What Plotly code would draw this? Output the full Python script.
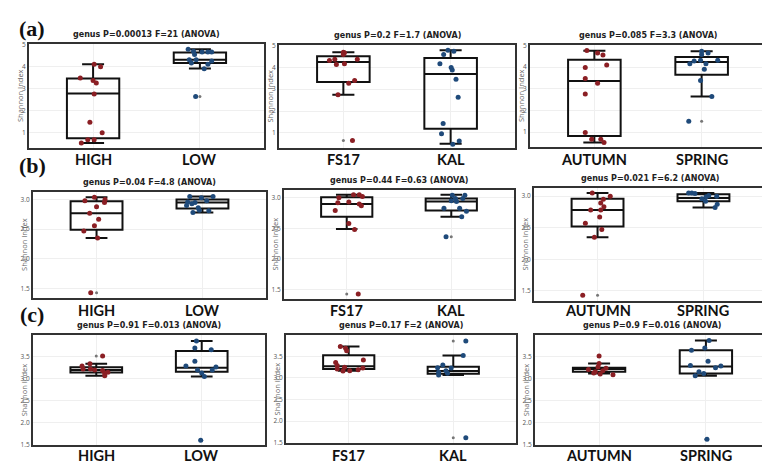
import plotly.graph_objects as go

# ---------------- data ----------------
titles = [
    "genus P=0.00013 F=21 (ANOVA)", "genus P=0.2 F=1.7 (ANOVA)", "genus P=0.085 F=3.3 (ANOVA)",
    "genus P=0.04 F=4.8 (ANOVA)", "genus P=0.44 F=0.63 (ANOVA)", "genus P=0.021 F=6.2 (ANOVA)",
    "genus P=0.91 F=0.013 (ANOVA)", "genus P=0.17 F=2 (ANOVA)", "genus P=0.9 F=0.016 (ANOVA)",
]
categories = [["HIGH", "LOW"], ["FS17", "KAL"], ["AUTUMN", "SPRING"]]
row_letters = ["(a)", "(b)", "(c)"]
y_ranges = [[0.33, 5.0], [1.34, 3.13], [1.48, 3.99]]
y_ticks = [[1, 2, 3, 4, 5], [1.5, 2.0, 2.5, 3.0], [1.5, 2.0, 2.5, 3.0, 3.5]]
y_tickfmt = ["d", ".1f", ".1f"]
y_title = "Shannon Index"

# row a
a_high_vals = [4.10, 3.99, 3.48, 3.37, 3.25, 2.76, 1.48, 1.00, 0.69, 0.69, 0.54]
a_high_jit = [0.01, 0.07, -0.12, 0.0, 0.03, 0.01, -0.03, 0.085, -0.05, 0.01, -0.11]
a_high_box = [0.54, 0.76, 2.78, 3.46, 4.10]
a_high_out = []
a_low_vals = [4.78, 4.69, 4.66, 4.66, 4.66, 4.55, 4.31, 4.31, 4.25, 4.16, 4.10, 3.90, 2.64]
a_low_jit = [-0.11, -0.06, 0.02, 0.075, 0.11, -0.05, -0.1, -0.035, 0.11, -0.08, 0.075, 0.04, -0.04]
a_low_box = [3.91, 4.16, 4.31, 4.64, 4.78]
a_low_out = [2.64]
a_fs17_vals = [4.69, 4.66, 4.58, 4.37, 4.31, 4.37, 4.13, 4.16, 3.40, 3.27, 2.75, 0.66]
a_fs17_jit = [0.0, 0.01, 0.0, -0.08, -0.13, 0.13, -0.065, 0.01, 0.105, 0.05, -0.05, 0.085]
a_fs17_box = [2.75, 3.33, 4.24, 4.51, 4.69]
a_fs17_out = [0.66]
a_kal_vals = [4.78, 4.73, 4.58, 4.16, 3.99, 3.88, 3.46, 2.63, 1.43, 0.96, 0.63, 0.48]
a_kal_jit = [-0.025, 0.03, -0.065, -0.1, 0.005, 0.015, 0.05, 0.07, -0.07, -0.085, 0.08, 0.02]
a_kal_box = [0.51, 1.19, 3.69, 4.42, 4.78]
a_kal_out = []
a_autumn_vals = [4.77, 4.65, 4.56, 4.10, 3.98, 3.48, 3.26, 2.76, 0.98, 0.67, 0.67, 0.52]
a_autumn_jit = [-0.07, 0.03, 0.08, 0.115, -0.085, -0.085, 0.03, -0.085, -0.085, -0.025, 0.06, 0.09]
a_autumn_box = [0.52, 0.82, 3.36, 4.34, 4.76]
a_autumn_out = []
a_spring_vals = [4.73, 4.65, 4.58, 4.28, 4.32, 4.32, 4.16, 4.16, 3.90, 3.38, 2.64, 1.50]
a_spring_jit = [0.0, 0.06, 0.0, -0.07, -0.01, 0.15, -0.11, 0.04, 0.025, -0.01, 0.095, -0.12]
a_spring_box = [2.64, 3.65, 4.23, 4.47, 4.73]
a_spring_out = [1.50]

# row b
b_high_vals = [3.04, 3.00, 2.98, 2.95, 2.88, 2.77, 2.67, 2.56, 2.47, 2.35, 1.43]
b_high_jit = [-0.02, 0.08, -0.11, 0.075, 0.0, -0.065, 0.02, -0.02, -0.12, 0.01, -0.055]
b_high_box = [2.35, 2.49, 2.77, 2.97, 3.04]
b_high_out = [1.43]
b_low_vals = [3.05, 3.05, 3.03, 2.98, 2.96, 2.95, 2.93, 2.90, 2.86, 2.81, 2.82, 2.78]
b_low_jit = [-0.12, 0.1, -0.01, 0.04, -0.14, -0.07, -0.1, -0.15, -0.04, 0.06, -0.03, -0.09]
b_low_box = [2.78, 2.85, 2.95, 3.00, 3.05]
b_low_out = []
b_fs17_vals = [3.05, 3.05, 3.02, 3.00, 2.93, 2.92, 2.90, 2.87, 2.79, 2.58, 2.48, 1.42]
b_fs17_jit = [0.065, 0.12, 0.15, -0.075, 0.02, -0.085, 0.12, 0.14, -0.11, 0.02, 0.075, 0.11]
b_fs17_box = [2.49, 2.69, 2.90, 3.01, 3.05]
b_fs17_out = [1.42]
b_kal_vals = [3.04, 3.04, 2.99, 2.99, 2.95, 2.94, 2.83, 2.83, 2.78, 2.69, 2.36]
b_kal_jit = [0.01, 0.13, 0.04, 0.11, 0.0, 0.05, -0.07, 0.08, 0.145, 0.1, -0.05]
b_kal_box = [2.69, 2.79, 2.94, 2.99, 3.05]
b_kal_out = [2.36]
b_autumn_vals = [3.05, 3.00, 2.95, 2.89, 2.83, 2.78, 2.78, 2.67, 2.57, 2.47, 2.35, 1.43]
b_autumn_jit = [-0.05, 0.12, 0.055, 0.03, 0.06, -0.065, 0.03, 0.02, -0.115, 0.04, -0.03, -0.14]
b_autumn_box = [2.35, 2.52, 2.78, 2.96, 3.05]
b_autumn_out = [1.43]
b_spring_vals = [3.05, 3.04, 3.01, 3.00, 2.99, 2.96, 2.92, 2.87, 2.82, 3.05]
b_spring_jit = [-0.11, -0.08, 0.05, 0.125, 0.025, -0.015, 0.02, 0.13, 0.11, -0.14]
b_spring_box = [2.82, 2.92, 2.97, 3.03, 3.05]
b_spring_out = []

# row c
c_high_vals = [3.52, 3.29, 3.34, 3.22, 3.19, 3.13, 3.15, 3.07, 3.22, 3.20]
c_high_jit = [0.06, -0.135, -0.06, -0.055, 0.06, 0.08, 0.11, 0.08, -0.125, -0.015]
c_high_box = [3.07, 3.14, 3.20, 3.26, 3.34]
c_high_out = [3.52]
c_low_vals = [3.86, 3.70, 3.66, 3.40, 3.29, 3.27, 3.20, 3.20, 3.13, 3.05, 1.60]
c_low_jit = [-0.05, -0.065, 0.09, -0.065, -0.15, 0.135, -0.04, 0.1, 0.0, 0.025, -0.01]
c_low_box = [3.05, 3.16, 3.25, 3.63, 3.86]
c_low_out = [1.60]
c_fs17_vals = [3.73, 3.69, 3.63, 3.42, 3.36, 3.29, 3.25, 3.23, 3.21, 3.19, 3.16, 3.17]
c_fs17_jit = [-0.08, -0.03, -0.02, 0.14, -0.125, -0.11, -0.04, 0.135, -0.11, 0.09, -0.055, 0.01]
c_fs17_box = [3.17, 3.21, 3.27, 3.53, 3.73]
c_fs17_out = []
c_kal_vals = [3.86, 3.52, 3.30, 3.24, 3.23, 3.17, 3.13, 3.11, 3.07, 1.61]
c_kal_jit = [0.12, 0.095, -0.1, -0.15, -0.02, -0.07, -0.14, -0.055, -0.14, 0.12]
c_kal_box = [3.07, 3.10, 3.16, 3.26, 3.52]
c_kal_out = [3.86, 1.61]
c_autumn_vals = [3.52, 3.35, 3.27, 3.24, 3.21, 3.16, 3.13, 3.11, 3.09, 3.18]
c_autumn_jit = [0.0, 0.0, -0.01, 0.065, -0.1, -0.035, -0.05, 0.01, 0.13, 0.035]
c_autumn_box = [3.12, 3.16, 3.22, 3.25, 3.35]
c_autumn_out = [3.52]
c_spring_vals = [3.87, 3.65, 3.70, 3.40, 3.30, 3.29, 3.25, 3.16, 3.12, 3.07, 1.62]
c_spring_jit = [0.03, -0.135, -0.01, 0.02, -0.145, 0.14, 0.09, -0.065, -0.02, -0.1, 0.01]
c_spring_box = [3.07, 3.12, 3.28, 3.65, 3.87]
c_spring_out = [1.62]

panels = [
    [(a_high_vals, a_high_jit, a_high_box, a_high_out), (a_low_vals, a_low_jit, a_low_box, a_low_out)],
    [(a_fs17_vals, a_fs17_jit, a_fs17_box, a_fs17_out), (a_kal_vals, a_kal_jit, a_kal_box, a_kal_out)],
    [(a_autumn_vals, a_autumn_jit, a_autumn_box, a_autumn_out), (a_spring_vals, a_spring_jit, a_spring_box, a_spring_out)],
    [(b_high_vals, b_high_jit, b_high_box, b_high_out), (b_low_vals, b_low_jit, b_low_box, b_low_out)],
    [(b_fs17_vals, b_fs17_jit, b_fs17_box, b_fs17_out), (b_kal_vals, b_kal_jit, b_kal_box, b_kal_out)],
    [(b_autumn_vals, b_autumn_jit, b_autumn_box, b_autumn_out), (b_spring_vals, b_spring_jit, b_spring_box, b_spring_out)],
    [(c_high_vals, c_high_jit, c_high_box, c_high_out), (c_low_vals, c_low_jit, c_low_box, c_low_out)],
    [(c_fs17_vals, c_fs17_jit, c_fs17_box, c_fs17_out), (c_kal_vals, c_kal_jit, c_kal_box, c_kal_out)],
    [(c_autumn_vals, c_autumn_jit, c_autumn_box, c_autumn_out), (c_spring_vals, c_spring_jit, c_spring_box, c_spring_out)],
]

# ---------------- layout geometry (pixels) ----------------
W, H = 770, 463
# plot areas: (left, top, right, bottom)
areas = [
    (21, 32, 256, 137), (271, 33, 507, 137), (522, 33, 758, 136),
    (25, 182, 258, 290), (276, 180, 506, 291), (526, 178, 759, 293),
    (25, 328, 257, 440), (278, 328, 508, 438), (527, 328, 762, 440),
]
label_y = [149, 303, 450]
letter_pos = [(24, 16), (24, 155), (24, 307)]

point_colors = ["#8b1f24", "#1f4a7a"]

fig = go.Figure()
annotations = []
layout_axes = {}

for p in range(9):
    row, col = divmod(p, 3)
    n = p + 1
    xa = "x" if n == 1 else f"x{n}"
    ya = "y" if n == 1 else f"y{n}"
    l, t, r, b = areas[p]
    layout_axes["xaxis" if n == 1 else f"xaxis{n}"] = dict(
        domain=[l / W, r / W], anchor=ya, range=[-0.6, 1.6],
        tickvals=[0, 1], showticklabels=False,
        showline=True, mirror=True, linecolor="#333", linewidth=2,
        showgrid=True, gridcolor="#efefef", gridwidth=1, zeroline=False,
        ticks="", fixedrange=True,
    )
    layout_axes["yaxis" if n == 1 else f"yaxis{n}"] = dict(
        domain=[1 - b / H, 1 - t / H], anchor=xa, range=y_ranges[row],
        tickvals=y_ticks[row], tickformat=y_tickfmt[row],
        tickfont=dict(family="Open Sans", size=6.5, color="#555"),
        showline=True, mirror=True, linecolor="#333", linewidth=2,
        showgrid=True, gridcolor="#efefef", gridwidth=1, zeroline=False,
        ticks="", ticklen=0, fixedrange=True,
    )
    for g, (vals, jit, box, out) in enumerate(panels[p]):
        fig.add_trace(go.Box(
            x=[g], lowerfence=[box[0]], q1=[box[1]], median=[box[2]], q3=[box[3]],
            upperfence=[box[4]], boxpoints=False, width=0.49, whiskerwidth=0.42,
            fillcolor="rgba(255,255,255,0)", line=dict(color="#111", width=2),
            xaxis=xa, yaxis=ya, showlegend=False, hoverinfo="skip",
        ))
        if out:
            fig.add_trace(go.Scatter(
                x=[g] * len(out), y=out, mode="markers",
                marker=dict(size=3, color="#777"),
                xaxis=xa, yaxis=ya, showlegend=False, hoverinfo="skip",
            ))
        fig.add_trace(go.Scatter(
            x=[g + j for j in jit], y=vals, mode="markers",
            marker=dict(size=5, color=point_colors[g]),
            xaxis=xa, yaxis=ya, showlegend=False, hoverinfo="skip",
        ))
        annotations.append(dict(
            text=f"<b>{categories[col][g]}</b>", xref=xa, yref="paper",
            x=g, y=1 - label_y[row] / H, xanchor="center", yanchor="middle",
            showarrow=False, font=dict(family="Lato", size=14.5, color="#111"),
        ))
    annotations.append(dict(
        text=f"<b>{titles[p]}</b>", xref="paper", yref="paper",
        x=(l + r) / 2 / W, y=1 - (t - 3) / H, xanchor="center", yanchor="bottom",
        showarrow=False, font=dict(family="DejaVu Sans", size=8, color="#222"),
    ))
    annotations.append(dict(
        text=y_title, xref="paper", yref="paper",
        x=(l - 9) / W, y=1 - (t + b) / 2 / H, xanchor="center", yanchor="middle",
        textangle=-90, showarrow=False,
        font=dict(family="Open Sans", size=7.5, color="#666"),
    ))

for i, (lx, ly) in enumerate(letter_pos):
    annotations.append(dict(
        text=f"<b>{row_letters[i]}</b>", xref="paper", yref="paper",
        x=lx / W, y=1 - ly / H, xanchor="center", yanchor="middle",
        showarrow=False, font=dict(family="Liberation Serif", size=22, color="#111"),
    ))

fig.update_layout(
    width=W, height=H, autosize=False,
    margin=dict(l=0, r=0, t=0, b=0),
    paper_bgcolor="white", plot_bgcolor="white",
    showlegend=False, annotations=annotations,
    **layout_axes,
)

fig.write_html("out.html")
